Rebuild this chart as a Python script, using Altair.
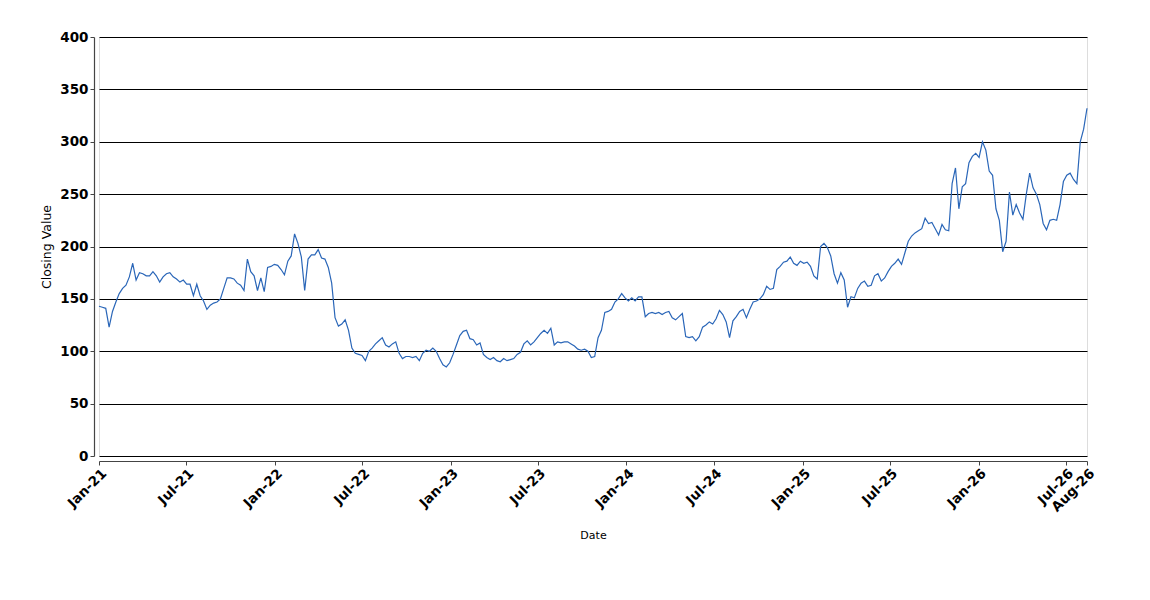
import altair as alt
import pandas as pd

# Weekly closing values (starting 2021-01-01, every 7 days)
seg_2021 = [143,142,141,123,138,147,155,160,163,171,
            184,168,175,174,172,172,176,172,166,171,
            174,175,171,169,166,168,164,164,153,164,
            153,148,140,144,146,147,150,160,170,170,
            169,165,163,158,188,176,172,158,170]
seg_2022 = [157,180,181,183,182,178,173,186,191,212,
            203,190,158,188,192,192,197,189,188,180,
            165,132,124,126,130,120,103,98,97,96,
            91,100,103,107,110,113,106,104,107,109,
            98,93,95,95,94,95,91,98,101,100]
seg_2023 = [103,100,93,87,85,89,97,106,115,119,
            120,112,111,106,108,97,94,92,94,91,
            90,93,91,92,93,97,99,107,110,106,
            109,113,117,120,117,122,106,109,108,109,
            109,107,105,102,101,102,100,94]
seg_2024 = [95,113,120,137,138,140,147,150,155,151,
            148,151,148,152,152,133,136,137,136,137,
            135,137,138,132,130,133,136,114,113,114,
            110,114,123,125,128,126,131,139,135,128,
            113,129,133,138,140,132,140,147,148,150]
seg_2025 = [154,162,159,160,178,181,185,186,190,184,
            182,186,184,185,181,172,169,200,203,199,
            191,174,165,175,168,142,152,151,160,165,
            167,162,163,172,174,167,170,176,181,184,
            188,183,194,205,210,213,215,217]
seg_2026 = [227,222,223,217,211,221,216,215,260,275,
            236,257,260,280,286,289,285,300,292,272,
            268,236,225,195,205,252,230,240,232,226,
            250,270,256,250,240,222,216,225,226,225,
            240,262,268,270,264,260,300,312,332]

values = seg_2021 + seg_2022 + seg_2023 + seg_2024 + seg_2025 + seg_2026
dates = pd.date_range("2021-01-01", periods=len(values), freq="7D")

df = pd.DataFrame({"date": dates.strftime("%Y-%m-%d"), "value": values})

tick_dates = [alt.DateTime(year=y, month=m, date=1, utc=True)
              for y in range(2021, 2027) for m in (1, 7)]
tick_dates.append(alt.DateTime(year=2026, month=8, date=14, utc=True))

y_ticks = [0, 50, 100, 150, 200, 250, 300, 350, 400]

chart = alt.Chart(df).mark_line(color="#2a66b8", strokeWidth=1.2).encode(
    x=alt.X(
        "date:T",
        title="Date",
        scale=alt.Scale(
            type="utc",
            domain=[alt.DateTime(year=2021, month=1, date=1, utc=True),
                    alt.DateTime(year=2026, month=8, date=14, utc=True)],
            nice=False,
        ),
        axis=alt.Axis(
            values=tick_dates,
            labelExpr="utcFormat(datum.value, '%b-%y')",
            labelAngle=-45,
            labelAlign="right",
            labelBaseline="top",
            labelOverlap=False,
            labelFlush=False,
            labelBound=False,
            labelFont="DejaVu Sans",
            labelFontWeight="bold",
            labelFontSize=13.5,
            labelColor="#000000",
            labelPadding=1,
            offset=5,
            grid=False,
            domainColor="#444444",
            domainWidth=1.2,
            tickColor="#444444",
            tickSize=4,
            titleFont="DejaVu Sans",
            titleFontWeight="normal",
            titleFontSize=11,
            titleColor="#000000",
            titlePadding=16,
        ),
    ),
    y=alt.Y(
        "value:Q",
        title="Closing Value",
        scale=alt.Scale(domain=[0, 400], nice=False, zero=True),
        axis=alt.Axis(
            values=y_ticks,
            labelFont="DejaVu Sans",
            labelFontWeight="bold",
            labelFontSize=13.5,
            labelColor="#000000",
            labelPadding=2,
            offset=5,
            grid=True,
            gridColor="#000000",
            gridWidth=1,
            gridOpacity=1,
            domainColor="#444444",
            domainWidth=1.2,
            tickColor="#444444",
            tickSize=4,
            titleFont="DejaVu Sans",
            titleFontWeight="normal",
            titleFontSize=12.5,
            titleColor="#000000",
            titlePadding=6,
        ),
    ),
).properties(
    width=988,
    height=419,
    autosize=alt.AutoSizeParams(type="none"),
    padding={"left": 91, "top": 29, "right": 50, "bottom": 100},
).configure_view(
    stroke="#333333",
    strokeWidth=1,
).configure(
    background="white",
)

chart.save("out.html", embed_options={"renderer": "svg", "actions": False})
